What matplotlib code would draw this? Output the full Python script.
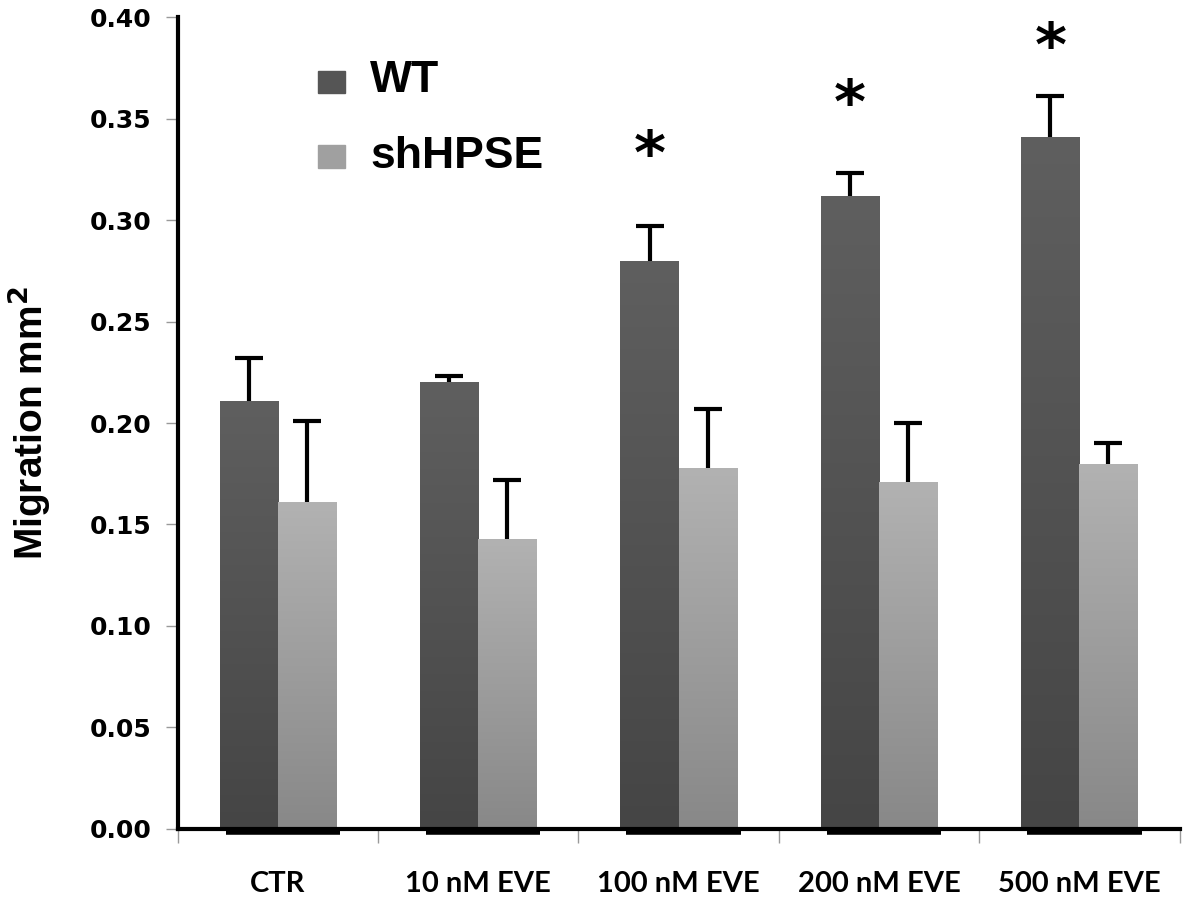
import numpy as np
import matplotlib
matplotlib.use('Agg')
import matplotlib.pyplot as plt
from matplotlib.patches import Rectangle

categories = ['CTR', '10 nM EVE', '100 nM EVE', '200 nM EVE', '500 nM EVE']
wt = [0.211, 0.220, 0.280, 0.312, 0.341]
wt_err = [0.021, 0.003, 0.017, 0.011, 0.020]
sh = [0.161, 0.143, 0.178, 0.171, 0.180]
sh_err = [0.040, 0.029, 0.029, 0.029, 0.010]
star_groups = [2, 3, 4]
star_y = [0.331, 0.356, 0.384]

fig = plt.figure(figsize=(12, 9.01), dpi=100)
ax = fig.add_axes([0.148, 0.080, 0.835, 0.901])

x = np.arange(len(categories))
w = 0.29


def gradient_bars(xs, vals, top, bottom):
    bars = ax.bar(xs, vals, w, color='none', edgecolor='none', zorder=2)
    grad = np.linspace(0, 1, 256).reshape(-1, 1)
    cmap = matplotlib.colors.LinearSegmentedColormap.from_list('g', [bottom, top])
    for b in bars:
        im = ax.imshow(grad, cmap=cmap, aspect='auto', origin='lower',
                       extent=[b.get_x(), b.get_x() + b.get_width(), 0, b.get_height()],
                       zorder=2)
        im.set_clip_path(b)
    return bars


gradient_bars(x - w / 2, wt, '#5f5f5f', '#454545')
gradient_bars(x + w / 2, sh, '#b2b2b2', '#888888')

# upward-only error bars
for xs, vals, errs in [(x - w / 2, wt, wt_err), (x + w / 2, sh, sh_err)]:
    eb = ax.errorbar(xs, vals, yerr=[np.zeros(5), errs], fmt='none', ecolor='black',
                     elinewidth=3, capsize=10, capthick=3, zorder=3)
    eb[1][0].set_visible(False)

for g, yv in zip(star_groups, star_y):
    ax.text(g - w / 2, yv, '*', ha='center', va='center', fontsize=44,
            fontweight='bold', family='DejaVu Sans')

# dark strip under each group
for i in x:
    ax.plot([i - w + 0.03, i + w + 0.02], [-0.0015, -0.0015], color='black', lw=4,
            solid_capstyle='butt', clip_on=False, zorder=4)

ax.set_xlim(-0.5, 4.5)
ax.set_ylim(0, 0.40)
ax.set_yticks(np.arange(0, 0.401, 0.05))
ax.set_yticklabels(['%.2f' % v for v in np.arange(0, 0.401, 0.05)],
                   fontsize=18, fontweight='bold', family='DejaVu Sans')
ax.set_xticks(x)
ax.set_xticklabels(categories, fontsize=21, fontweight='bold', family='Lato')
ax.set_xticks(np.arange(-0.5, 4.6, 1), minor=True)
ax.tick_params(axis='x', which='major', length=0, pad=30)
ax.tick_params(axis='x', which='minor', length=10, width=1, color='#999999')
ax.tick_params(axis='y', length=9, width=1, color='#999999', pad=10)

for s in ['top', 'right']:
    ax.spines[s].set_visible(False)
ax.spines['left'].set_linewidth(3)
ax.spines['bottom'].set_linewidth(3)

ax.set_ylabel('Migration mm$^{\\mathbf{2}}$', fontsize=28, fontweight='bold',
              family='Liberation Sans', labelpad=26)

# legend
ax.add_patch(Rectangle((0.1397, 0.906), 0.027, 0.028, transform=ax.transAxes,
                       color='#555555', clip_on=False))
ax.add_patch(Rectangle((0.1397, 0.814), 0.027, 0.028, transform=ax.transAxes,
                       color='#a0a0a0', clip_on=False))
ax.text(0.192, 0.922, 'WT', transform=ax.transAxes, fontsize=32, fontweight='bold',
        family='Liberation Sans', va='center')
ax.text(0.192, 0.828, 'shHPSE', transform=ax.transAxes, fontsize=32, fontweight='bold',
        family='Liberation Sans', va='center')

plt.savefig('out.png', dpi=100)
